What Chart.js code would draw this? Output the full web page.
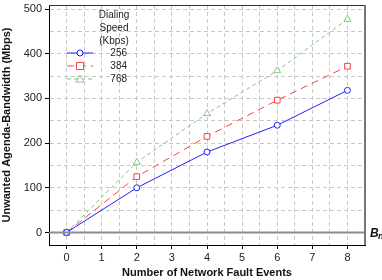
<!DOCTYPE html>
<html>
<head>
<meta charset="utf-8">
<script src="https://cdn.jsdelivr.net/npm/chart.js@4.4.1/dist/chart.umd.min.js"></script>
<style>
  html, body { margin: 0; padding: 0; background: #fff; }
  #wrap { width: 382px; height: 280px; }
</style>
</head>
<body>
<div id="wrap"><canvas id="faults"></canvas></div>
<script>
var faultEvents = [0, 2, 4, 6, 8];
var speeds = ["256", "384", "768"];
var bw256 = [0, 100, 180, 240, 318];
var bw384 = [0, 125, 215, 296, 372];
var bw768 = [0, 157, 266, 362, 477];
var legendTitle = ["Dialing", "Speed", "(Kbps)"];
var xTicks = [-0.5, 0, 0.5, 1, 1.5, 2, 2.5, 3, 3.5, 4, 4.5, 5, 5.5, 6, 6.5, 7, 7.5, 8, 8.5];
var yTicks = [0, 50, 100, 150, 200, 250, 300, 350, 400, 450, 500];

function pts(ys) {
    return faultEvents.map(function (x, i) { return { x: x, y: ys[i] }; });
}

var boxAndLegend = {
    id: "boxAndLegend",
    afterDraw: function (chart) {
        var ctx = chart.ctx, a = chart.chartArea;
        var y0 = chart.scales.y.getPixelForValue(0);
        ctx.save();
        // zero line
        ctx.strokeStyle = "#8c8c8c";
        ctx.lineWidth = 2;
        ctx.beginPath();
        ctx.moveTo(a.left, y0);
        ctx.lineTo(a.right, y0);
        ctx.stroke();
        // top / right frame
        ctx.lineWidth = 1;
        ctx.strokeStyle = "#333";
        ctx.beginPath();
        ctx.moveTo(a.left, a.top + 0.5);
        ctx.lineTo(a.right, a.top + 0.5);
        ctx.stroke();
        ctx.strokeStyle = "#777";
        ctx.lineWidth = 2;
        ctx.beginPath();
        ctx.moveTo(a.right, a.top);
        ctx.lineTo(a.right, a.bottom);
        ctx.stroke();

        // B_n label
        ctx.fillStyle = "#111";
        ctx.textBaseline = "middle";
        ctx.textAlign = "left";
        ctx.font = "italic bold 12px Arial";
        ctx.fillText("B", a.right + 5, y0 + 1);
        ctx.font = "italic bold 9px Arial";
        ctx.fillText("n", a.right + 13, y0 + 4);

        // legend
        ctx.font = "10px Arial";
        ctx.fillStyle = "#222";
        ctx.textAlign = "center";
        legendTitle.forEach(function (t, i) {
            ctx.fillText(t, 114, 15 + i * 13);
        });
        chart.data.datasets.forEach(function (ds, i) {
            var y = 53 + i * 13;
            ctx.strokeStyle = ds.borderColor;
            ctx.lineWidth = 1;
            ctx.setLineDash(ds.borderDash || []);
            ctx.beginPath();
            ctx.moveTo(67, y);
            ctx.lineTo(93, y);
            ctx.stroke();
            ctx.setLineDash([]);
            drawMarker(ctx, ds.pointStyle, 80, y, ds.borderColor);
            ctx.fillStyle = "#222";
            ctx.textAlign = "right";
            ctx.fillText(speeds[i], 127, y);
        });
        ctx.restore();
    }
};

function drawMarker(ctx, style, x, y, color) {
    ctx.strokeStyle = color;
    ctx.fillStyle = "#fff";
    ctx.lineWidth = 1;
    ctx.beginPath();
    if (style === "circle") {
        ctx.arc(x, y, 3, 0, Math.PI * 2);
    } else if (style === "rect") {
        ctx.rect(x - 3.5, y - 3.5, 7, 7);
    } else {
        ctx.moveTo(x, y - 4);
        ctx.lineTo(x + 4, y + 3);
        ctx.lineTo(x - 4, y + 3);
        ctx.closePath();
    }
    ctx.fill();
    ctx.stroke();
}

function gridCfg() {
    return {
        color: "#c8c8c8",
        lineWidth: 1,
        drawTicks: true,
        tickLength: 4,
        tickColor: function (c) { return c.tick && c.tick.label !== "" ? "#000" : "rgba(0,0,0,0)"; }
    };
}

new Chart(document.getElementById("faults"), {
    type: "line",
    data: {
        datasets: [
            {
                label: speeds[0], data: pts(bw256),
                borderColor: "#2020ff", borderWidth: 1, pointStyle: "circle",
                pointRadius: 3, pointBackgroundColor: "#fff", pointBorderColor: "#2020ff"
            },
            {
                label: speeds[1], data: pts(bw384),
                borderColor: "#ff4040", borderWidth: 1, borderDash: [7, 5], pointStyle: "rect",
                pointRadius: 4, pointBackgroundColor: "#fff", pointBorderColor: "#ff4040"
            },
            {
                label: speeds[2], data: pts(bw768),
                borderColor: "#80c880", borderWidth: 1, borderDash: [4, 3], pointStyle: "triangle",
                pointRadius: 4, pointBackgroundColor: "#fff", pointBorderColor: "#80c880"
            }
        ]
    },
    options: {
        responsive: true,
        maintainAspectRatio: false,
        animation: false,
        layout: { padding: { left: 0, right: 17, top: 3, bottom: 0 } },
        plugins: { legend: { display: false }, tooltip: { enabled: false } },
        scales: {
            x: {
                type: "linear",
                min: -0.5,
                max: 8.5,
                grid: gridCfg(),
                border: { color: "#000", width: 1, dash: [4, 3] },
                afterBuildTicks: function (s) {
                    s.ticks = xTicks.map(function (v) { return { value: v }; });
                },
                ticks: {
                    autoSkip: false,
                    maxRotation: 0,
                    color: "#222",
                    padding: 2,
                    font: { family: "Arial", size: 11 },
                    callback: function (v) { return Number.isInteger(v) ? String(v) : ""; }
                },
                title: {
                    display: true,
                    text: "Number of Network Fault Events",
                    color: "#111",
                    font: { family: "Arial", size: 11, weight: "bold" },
                    padding: { top: 3, bottom: 0 }
                },
                afterFit: function (s) { s.height = 35; s.paddingLeft = 0; s.paddingRight = 0; }
            },
            y: {
                min: -28,
                max: 509,
                grid: gridCfg(),
                border: { color: "#000", width: 1, dash: [4, 3] },
                afterBuildTicks: function (s) {
                    s.ticks = yTicks.map(function (v) { return { value: v }; });
                },
                ticks: {
                    autoSkip: false,
                    color: "#222",
                    padding: 3,
                    font: { family: "Arial", size: 11 },
                    callback: function (v) { return v % 100 === 0 ? String(v) : ""; }
                },
                title: {
                    display: true,
                    text: "Unwanted Agenda-Bandwidth (Mbps)",
                    color: "#111",
                    font: { family: "Arial", size: 11, weight: "bold" },
                    padding: { top: 0, bottom: 4 }
                },
                afterFit: function (s) { s.width = 49; s.paddingTop = 0; s.paddingBottom = 0; }
            }
        }
    },
    plugins: [boxAndLegend]
});
</script>
</body>
</html>
